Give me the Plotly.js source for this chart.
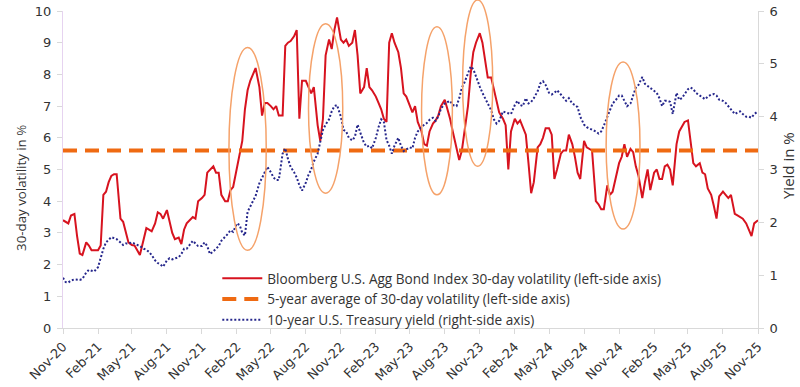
<!DOCTYPE html>
<html><head><meta charset="utf-8">
<script src="https://cdn.plot.ly/plotly-3.0.1.min.js"></script>
<style>html,body{margin:0;padding:0;background:#fff;}#chart{width:800px;height:387px;}</style>
</head><body><div id="chart"></div>
<script>
// ---- data ----
// sampling: days 1, 8, 15, 22 of every month, Nov 2020 .. Oct 2025, plus 1 Nov 2025
const sampleDays = [1, 8, 15, 22];
const firstYear = 2020, firstMonthIndex = 10, monthCount = 60;
const lastDate = '2025-11-01';

const volatility = [
 3.4,3.35,3.3,3.55, 3.6,2.9,2.35,2.3, 2.7,2.6,2.45,2.45, 2.45,2.6,4.2,4.3,
 4.6,4.8,4.85,4.85, 3.45,3.35,3.05,2.7, 2.62,2.6,2.45,2.3, 2.8,3.15,3.1,3.05,
 3.3,3.65,3.6,3.45, 3.72,3.4,3.0,2.8, 2.85,2.65,3.1,3.3, 3.4,3.5,3.45,4.0,
 4.1,4.2,4.9,5.0, 5.1,4.9,4.9,4.2, 4.0,4.0,4.35,4.45, 5.1,5.5,5.9,6.9,
 7.5,7.8,8.0,8.2, 7.6,6.7,7.1,7.1, 7.0,6.9,7.0,6.7, 6.7,8.9,9.0,9.05,
 9.2,9.4,6.6,7.8, 7.8,7.6,7.4,7.6, 6.4,5.9,6.6,8.6, 9.1,8.8,9.4,9.8,
 9.1,9.0,9.1,8.9, 9.0,9.4,8.6,7.4, 7.6,8.2,7.6,7.5, 7.3,7.1,6.9,6.6,
 6.5,9.0,9.3,9.0, 8.7,8.2,7.4,7.3, 7.0,6.8,7.0,6.5, 6.2,5.8,5.75,6.2,
 6.45,6.55,6.7,7.0, 7.2,6.9,6.6,6.2, 5.7,5.3,5.6,6.2, 7.0,8.0,8.7,9.0,
 9.3,9.0,8.4,7.9, 7.9,7.5,7.1,6.8, 6.6,6.4,5.0,6.2, 6.6,6.45,6.55,6.35,
 6.1,5.2,4.25,4.6, 5.7,5.8,6.0,6.3, 6.3,6.1,4.7,5.0, 5.5,5.6,5.6,6.1,
 5.8,5.4,4.9,4.7, 5.9,5.7,5.65,5.6, 4.0,3.9,3.75,3.75, 4.5,4.2,4.3,4.7,
 5.2,5.4,5.8,5.4, 5.65,5.55,5.1,4.8, 4.1,4.6,5.0,4.35, 4.9,5.0,4.7,4.7,
 5.1,5.15,5.0,4.5, 5.8,6.2,6.35,6.5, 6.55,5.8,5.2,5.1, 5.2,4.9,4.85,4.4,
 4.2,3.85,3.45,4.15, 4.3,4.2,4.1,4.2, 3.6,3.55,3.5,3.45, 3.3,3.1,2.9,3.3,
 3.4
];

const treasuryYield = [
 0.95,0.87,0.86,0.9, 0.92,0.92,0.91,0.93, 1.05,1.1,1.08,1.07, 1.15,1.35,1.5,1.62,
 1.68,1.72,1.7,1.68, 1.62,1.57,1.6,1.6, 1.62,1.6,1.58,1.55, 1.5,1.48,1.44,1.38,
 1.28,1.23,1.2,1.16, 1.28,1.32,1.3,1.32, 1.34,1.4,1.5,1.5, 1.58,1.65,1.6,1.55,
 1.55,1.62,1.55,1.4, 1.45,1.5,1.55,1.65, 1.72,1.78,1.85,1.82, 1.98,1.95,1.8,1.75,
 2.2,2.3,2.42,2.5, 2.74,2.85,2.95,3.05, 2.95,2.85,2.8,2.8, 3.3,3.4,3.2,3.05,
 2.95,2.85,2.7,2.6, 2.75,2.9,3.0,3.15, 3.3,3.55,3.75,3.85, 3.95,4.1,4.2,4.22,
 4.0,3.75,3.72,3.6, 3.55,3.62,3.85,3.7, 3.5,3.43,3.45,3.4, 3.6,3.8,3.95,3.9,
 3.56,3.45,3.3,3.45, 3.6,3.45,3.35,3.38, 3.42,3.4,3.6,3.72, 3.8,3.85,3.88,3.94,
 3.98,3.92,4.0,4.15, 4.25,4.28,4.3,4.22, 4.2,4.35,4.55,4.65, 4.8,4.95,4.9,4.75,
 4.57,4.45,4.35,4.28, 4.12,3.95,3.87,3.92, 4.1,4.08,4.06,4.05, 4.22,4.3,4.22,4.2,
 4.35,4.25,4.28,4.35, 4.48,4.63,4.67,4.6, 4.45,4.42,4.45,4.5, 4.42,4.35,4.3,4.35,
 4.25,4.22,4.18,4.0, 3.85,3.8,3.78,3.75, 3.72,3.68,3.72,3.83, 4.0,4.15,4.25,4.3,
 4.4,4.4,4.3,4.2, 4.25,4.4,4.55,4.6, 4.75,4.62,4.58,4.55, 4.5,4.45,4.35,4.2,
 4.3,4.3,4.28,4.05, 4.45,4.32,4.35,4.42, 4.52,4.55,4.52,4.45, 4.4,4.37,4.33,4.38,
 4.42,4.43,4.4,4.32, 4.3,4.26,4.2,4.15, 4.05,4.08,4.1,4.05, 4.0,4.0,3.98,4.05,
 4.1
];

const averageVolatility = 5.6;

// highlighted periods (ellipses), in dates and left-axis (volatility) units
const highlightStart = ['2022-01-11','2022-08-08','2023-06-01','2023-09-17','2024-09-28'];
const highlightEnd   = ['2022-04-19','2022-11-06','2023-08-21','2023-12-05','2024-12-26'];
const highlightLow   = [2.45, 4.25, 4.2, 5.1, 3.12];
const highlightHigh  = [8.85, 9.6, 9.5, 10.35, 8.39];

const seriesNames = [
 'Bloomberg U.S. Agg Bond Index 30-day volatility (left-side axis)',
 '5-year average of 30-day volatility (left-side axis)',
 '10-year U.S. Treasury yield (right-side axis)'
];
const leftAxisTitle = '30-day volatility in %';
const rightAxisTitle = 'Yield in %';
const volRange = [0, 10];
const yieldRange = [0, 6];

// ---- build ----
const pad = n => String(n).padStart(2, '0');
const dates = [];
for (let k = 0; k < monthCount; k++) {
  const mi = firstMonthIndex + k;
  const yr = firstYear + Math.floor(mi / 12);
  const mo = mi % 12 + 1;
  for (const d of sampleDays) dates.push(yr + '-' + pad(mo) + '-' + pad(d));
}
dates.push(lastDate);

const traces = [
  {x: dates, y: volatility, type: 'scatter', mode: 'lines', name: seriesNames[0],
   line: {color: '#D7131F', width: 2}, yaxis: 'y'},
  {x: [dates[0], dates[dates.length - 1]], y: [averageVolatility, averageVolatility],
   type: 'scatter', mode: 'lines', name: seriesNames[1],
   line: {color: '#EF6A12', width: 4, dash: '14px,8px'}, yaxis: 'y'},
  {x: dates, y: treasuryYield, type: 'scatter', mode: 'lines', name: seriesNames[2],
   line: {color: '#26278C', width: 2, dash: '2px,2px'}, yaxis: 'y2'}
];

const shapes = highlightStart.map((s, i) => ({
  type: 'circle', xref: 'x', yref: 'paper',
  x0: s, x1: highlightEnd[i],
  y0: highlightLow[i] / volRange[1], y1: highlightHigh[i] / volRange[1],
  line: {color: '#F5A26A', width: 1.5}, fillcolor: 'rgba(0,0,0,0)', layer: 'above'
}));

const tickFont = {family: '"DejaVu Sans", Verdana, sans-serif', size: 13, color: '#333333'};
const axisCommon = {showgrid: false, zeroline: false, ticks: 'outside', ticklen: 5,
  tickcolor: '#d9d9d9', showline: true, linecolor: '#d9d9d9', linewidth: 1, tickfont: tickFont};

const layout = {
  width: 800, height: 387,
  margin: {l: 63, r: 42, t: 11, b: 59, pad: 0},
  paper_bgcolor: '#ffffff', plot_bgcolor: '#ffffff',
  font: {family: '"Open Sans", sans-serif', size: 13, color: '#333333'},
  showlegend: true,
  legend: {x: 0.222, y: 0.205, xanchor: 'left', yanchor: 'top', bgcolor: 'rgba(0,0,0,0)',
           font: {size: 13.6, color: '#333333'}, tracegroupgap: 0, itemwidth: 40},
  xaxis: Object.assign({}, axisCommon, {
    type: 'date', range: [dates[0], lastDate], tick0: dates[0], dtick: 'M3',
    tickformat: '%b-%y', tickangle: -45
  }),
  yaxis: Object.assign({}, axisCommon, {
    range: volRange, dtick: 1, linecolor: '#e6d3f0', ticklabelstandoff: 3
  }),
  yaxis2: Object.assign({}, axisCommon, {
    range: yieldRange, dtick: 1, overlaying: 'y', side: 'right', ticklabelstandoff: 3
  }),
  annotations: [
    {text: leftAxisTitle, xref: 'paper', yref: 'paper', x: -0.0604, y: 0.442,
     xanchor: 'center', yanchor: 'middle', textangle: -90, showarrow: false,
     font: {size: 13.3, color: '#333333'}},
    {text: rightAxisTitle, xref: 'paper', yref: 'paper', x: 1.0432, y: 0.511,
     xanchor: 'center', yanchor: 'middle', textangle: -90, showarrow: false,
     font: {size: 15, color: '#333333'}}
  ],
  shapes: shapes
};

Plotly.newPlot('chart', traces, layout, {displayModeBar: false, staticPlot: true});
</script>
</body></html>
